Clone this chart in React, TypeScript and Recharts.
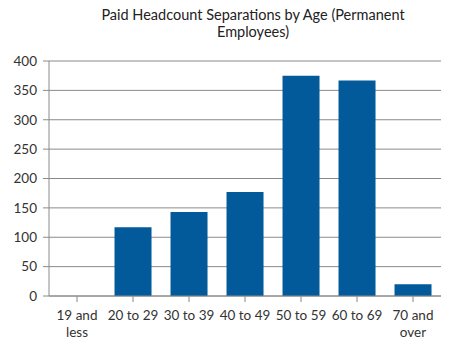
import React from 'react'
import { Bar, BarChart, CartesianGrid, XAxis, YAxis } from 'recharts'

const ageGroups = [
  '19 and less',
  '20 to 29',
  '30 to 39',
  '40 to 49',
  '50 to 59',
  '60 to 69',
  '70 and over',
]
const separations = [0, 117, 143, 177, 375, 367, 20]
const yTicks = [0, 50, 100, 150, 200, 250, 300, 350, 400]
const titleLines = ['Paid Headcount Separations by Age (Permanent', 'Employees)']

const data = ageGroups.map((age, i) => ({ age, value: separations[i] }))

const font = 'Lato, "Open Sans", sans-serif'

const AgeTick = (props: any) => {
  const { x, y, payload } = props
  const label: string = payload.value
  const lines = label.includes(' and ')
    ? [label.replace(/ and .*/, ' and'), label.replace(/.* and /, '')]
    : [label]
  return (
    <text x={x} y={y + 16} textAnchor='middle' fill='#333' fontSize={13.5} fontFamily={font}>
      {lines.map((l, i) => (
        <tspan key={i} x={x} dy={i === 0 ? 0 : 17}>
          {l}
        </tspan>
      ))}
    </text>
  )
}

const App = () => {
  return (
    <div style={{ position: 'absolute', left: 0, top: 0, width: 464, height: 350, background: '#fff' }}>
      <svg width={464} height={50} style={{ position: 'absolute', left: 0, top: 0 }}>
        {titleLines.map((t, i) => (
          <text
            key={i}
            x={253}
            y={20 + i * 17}
            textAnchor='middle'
            fill='#222'
            fontSize={14.5}
            fontFamily={font}
          >
            {t}
          </text>
        ))}
      </svg>
      <div style={{ position: 'absolute', left: 0, top: 0 }}>
        <BarChart
          width={464}
          height={350}
          data={data}
          margin={{ top: 61, right: 23, left: 0, bottom: 0 }}
          barCategoryGap='17%'
        >
          <CartesianGrid vertical={false} stroke='#8a8a8a' />
          <XAxis
            dataKey='age'
            height={54}
            stroke='#8a8a8a'
            tickSize={6}
            interval={0}
            tick={<AgeTick />}
            tickLine={{ stroke: '#8a8a8a' }}
          />
          <YAxis
            width={49}
            domain={[0, 400]}
            ticks={yTicks}
            stroke='#8a8a8a'
            tickSize={6}
            tickMargin={6}
            tick={{ fill: '#333', fontSize: 13.5, fontFamily: font }}
            interval={0}
          />
          <Bar dataKey='value' fill='#035a9b' isAnimationActive={false} />
        </BarChart>
      </div>
    </div>
  )
}

export default App
